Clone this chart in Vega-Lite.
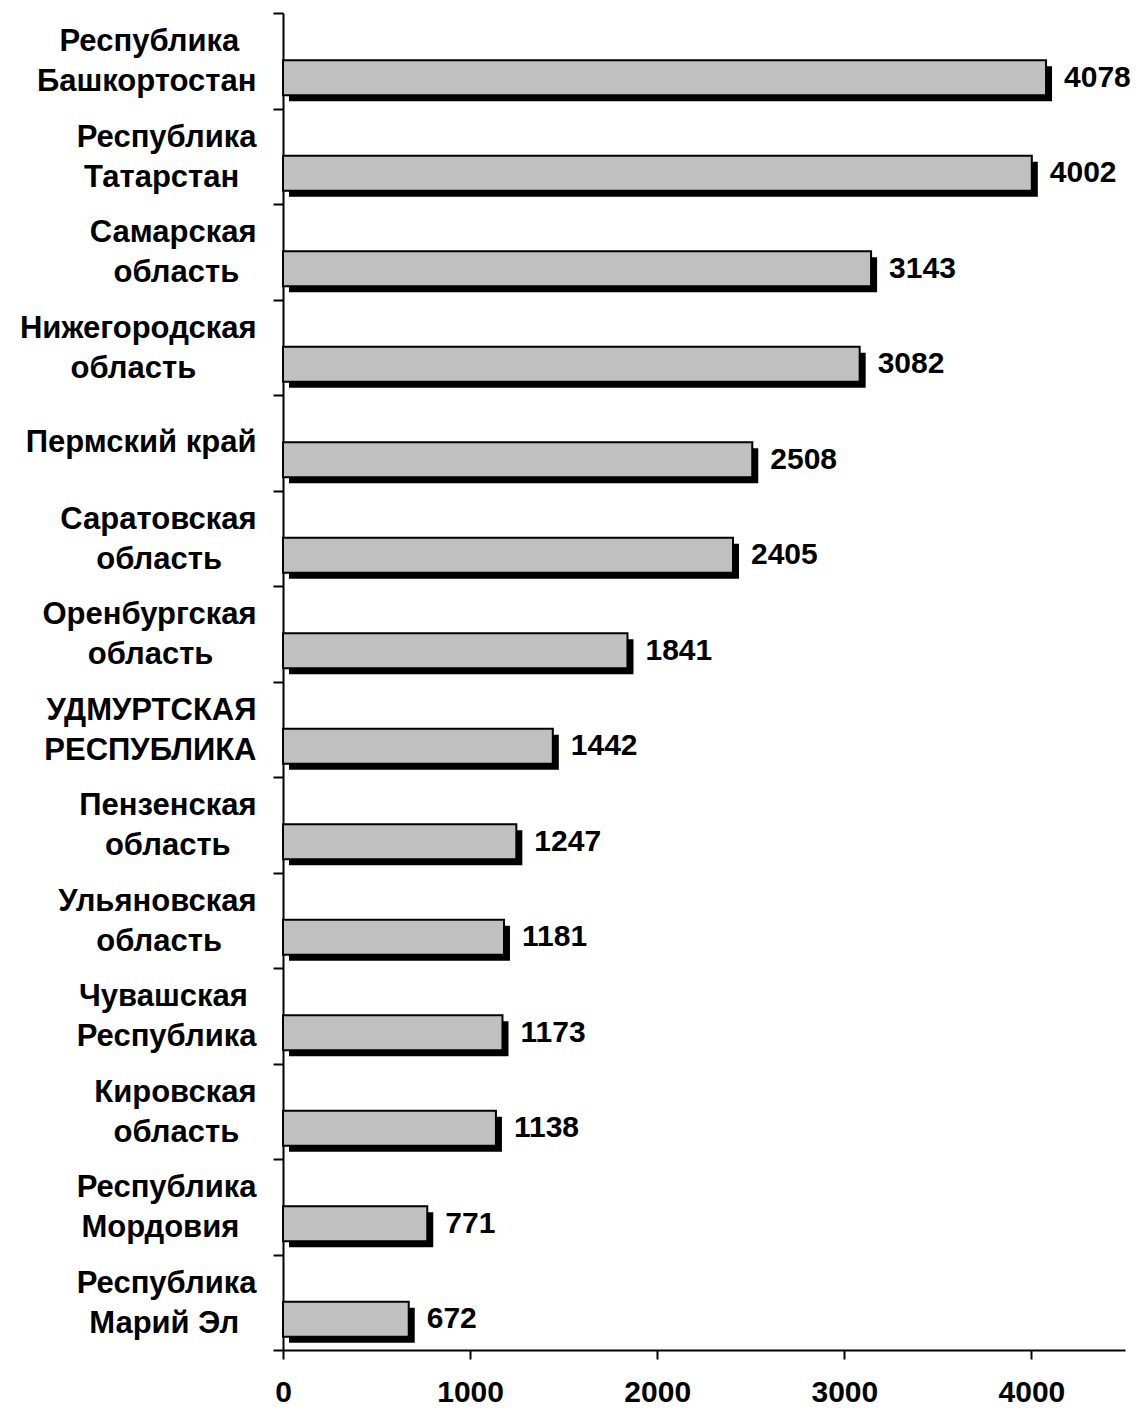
{
  "$schema": "https://vega.github.io/schema/vega-lite/v6.json",
  "width": 842,
  "height": 1337,
  "autosize": {"type": "none"},
  "padding": {"left": 283, "top": 13, "right": 15, "bottom": 60},
  "background": "white",
  "config": {"view": {"stroke": null}, "font": "Liberation Sans"},
  "data": {
    "values": [
      {"region": "Республика\u00a0\u00a0\u200b|Башкортостан", "value": 4078},
      {"region": "Республика|Татарстан\u00a0\u00a0\u200b", "value": 4002},
      {"region": "Самарская|область\u00a0\u00a0\u200b", "value": 3143},
      {"region": "Нижегородская|область\u00a0\u00a0\u00a0\u00a0\u00a0\u00a0\u00a0\u200b", "value": 3082},
      {"region": "Пермский край", "value": 2508},
      {"region": "Саратовская|область\u00a0\u00a0\u00a0\u00a0\u200b", "value": 2405},
      {"region": "Оренбургская|область\u00a0\u00a0\u00a0\u00a0\u00a0\u200b", "value": 1841},
      {"region": "УДМУРТСКАЯ|РЕСПУБЛИКА", "value": 1442},
      {"region": "Пензенская|область\u00a0\u00a0\u00a0\u200b", "value": 1247},
      {"region": "Ульяновская|область\u00a0\u00a0\u00a0\u00a0\u200b", "value": 1181},
      {"region": "Чувашская\u00a0\u200b|Республика", "value": 1173},
      {"region": "Кировская|область\u00a0\u00a0\u200b", "value": 1138},
      {"region": "Республика|Мордовия\u00a0\u00a0\u200b", "value": 771},
      {"region": "Республика|Марий Эл\u00a0\u00a0\u200b", "value": 672}
    ]
  },
  "encoding": {
    "y": {
      "field": "region",
      "type": "nominal",
      "sort": null,
      "title": null,
      "scale": {"paddingInner": 0, "paddingOuter": 0},
      "axis": {
        "domainColor": "black",
        "domainWidth": 2,
        "tickColor": "black",
        "tickWidth": 2,
        "tickSize": 10,
        "tickBand": "extent",
        "labelFont": "Liberation Sans",
        "labelFontSize": 31,
        "labelFontWeight": "bold",
        "labelColor": "black",
        "labelPadding": 17,
        "labelLineHeight": 40,
        "labelLimit": 300,
        "labelOffset": {"condition": {"test": "datum.value == 'Пермский край'", "value": 0}, "value": -19},
        "labelExpr": "split(datum.label, '|')"
      }
    },
    "x": {
      "field": "value",
      "type": "quantitative",
      "title": null,
      "scale": {"domain": [0, 4500], "nice": false},
      "axis": {
        "values": [0, 1000, 2000, 3000, 4000],
        "format": "d",
        "grid": false,
        "domainColor": "black",
        "domainWidth": 2,
        "tickColor": "black",
        "tickWidth": 2,
        "tickSize": 9,
        "labelFont": "Liberation Sans",
        "labelFontSize": 30,
        "labelFontWeight": "bold",
        "labelColor": "black",
        "labelPadding": 18,
        "labelFlush": false,
        "labelOverlap": false
      }
    }
  },
  "layer": [
    {
      "mark": {"type": "bar", "size": 35, "color": "black", "xOffset": 6, "x2Offset": 6, "yOffset": 23, "y2Offset": 23}
    },
    {
      "mark": {"type": "bar", "size": 35, "fill": "#C0C0C0", "stroke": "black", "strokeWidth": 2, "yOffset": 17, "y2Offset": 17}
    },
    {
      "mark": {"type": "text", "align": "left", "baseline": "middle", "dx": 18, "yOffset": 17, "font": "Liberation Sans", "fontSize": 30, "fontWeight": "bold", "color": "black"},
      "encoding": {"text": {"field": "value", "type": "quantitative", "format": "d"}}
    }
  ]
}
